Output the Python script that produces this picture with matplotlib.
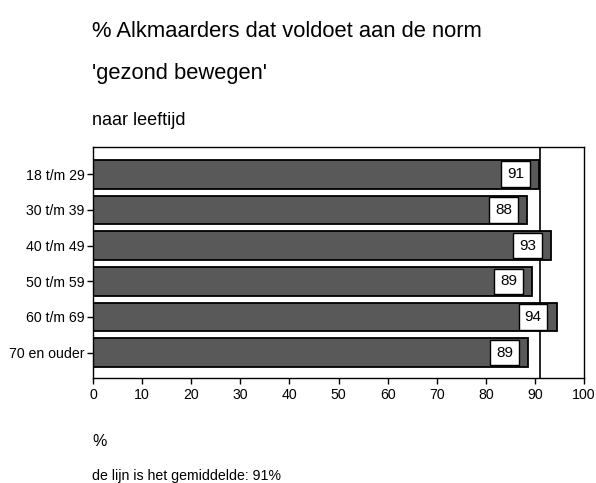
"""
plot.py

% Alkmaarders dat voldoet aan de norm 'gezond bewegen', naar leeftijd
horizontal bars with value boxes and a line at the average
"""

import matplotlib
matplotlib.use('Agg')
import matplotlib.pyplot as plt

plt.rcParams['font.family'] = ['Liberation Sans', 'DejaVu Sans']

# data
categories = ['18 t/m 29', '30 t/m 39', '40 t/m 49', '50 t/m 59', '60 t/m 69', '70 en ouder']
values = [90.8, 88.4, 93.3, 89.4, 94.4, 88.6]
labels = ['91', '88', '93', '89', '94', '89']
average = 91
xticks = [0, 10, 20, 30, 40, 50, 60, 70, 80, 90, 100]

W, H = 596, 483
fig = plt.figure(figsize=(W / 100, H / 100), dpi=100)

# axes frame in pixels: left 93, right 584, top 147, bottom 378
left, right, top, bottom = 93, 584, 147, 378
ax = fig.add_axes([left / W, 1 - bottom / H, (right - left) / W, (bottom - top) / H])

ypos = list(range(len(categories)))

ax.axvline(average, color='black', lw=1.2, zorder=1)
ax.barh(ypos, values, height=0.81, color='#595959', edgecolor='black',
        linewidth=1.3, zorder=2)

for y, v, lab in zip(ypos, values, labels):
    ax.annotate(lab, xy=(v, y), xytext=(-10.8, 0), textcoords='offset points',
                ha='right', va='center', fontsize=11, zorder=3,
                bbox=dict(boxstyle='square,pad=0.38', fc='white', ec='black', lw=1))

ax.set_xlim(0, 100)
ax.set_ylim(5.71, -0.765)
ax.set_xticks(xticks)
ax.set_yticks(ypos)
ax.set_yticklabels(categories)
ax.tick_params(axis='both', labelsize=10.2, length=4, width=1, direction='out',
               colors='black')
ax.tick_params(axis='x', pad=3)
ax.tick_params(axis='y', pad=2)
for s in ax.spines.values():
    s.set_linewidth(1)
    s.set_color('black')

def px_text(x, y, s, size):
    fig.text(x / W, 1 - y / H, s, fontsize=size, ha='left', va='baseline')

px_text(92, 36.7, '% Alkmaarders dat voldoet aan de norm', 15.8)
px_text(92, 79, "'gezond bewegen'", 15.8)
px_text(92, 125, 'naar leeftijd', 13)
px_text(92, 446, '%', 11.5)
px_text(92, 480, 'de lijn is het gemiddelde: 91%', 10.2)

fig.savefig('out.png', dpi=100)
